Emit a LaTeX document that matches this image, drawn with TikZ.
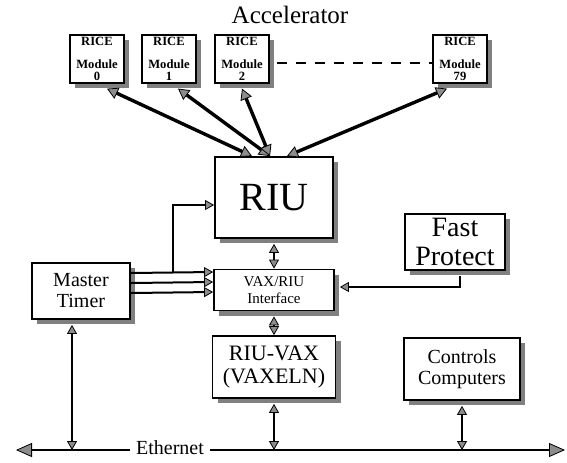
\documentclass[tikz,border=0pt]{standalone}
\usepackage{fontspec}
\setmainfont{Liberation Serif}
\usetikzlibrary{arrows.meta,shadows}

\begin{document}
\begin{tikzpicture}[x=0.5pt,y=-0.5pt,
    box/.style={draw,line width=0.9pt,fill=white,inner sep=1pt,align=center,
      drop shadow={shadow xshift=2.6pt,shadow yshift=-2.6pt,fill=black!50,opacity=1}},
    modbox/.style={box,line width=0.8pt,minimum width=27pt,minimum height=22pt,
      font=\bfseries\fontsize{6.3}{6.3}\selectfont},
    gtip/.tip={Triangle[length=4.5pt,width=5pt,fill=black!45,line width=0.4pt]},
    btip/.tip={Triangle[length=5.5pt,width=6pt,fill=black!45,line width=0.4pt]},
    etip/.tip={Triangle[length=8pt,width=7pt,fill=black!45,line width=0.4pt]},
    bus/.style={line width=1.7pt,btip-btip},
    link/.style={line width=1pt}]
  \useasboundingbox (0,0) rectangle (567,462);

  \node (acc) at (290,15) {\fontsize{12.5}{15}\selectfont Accelerator};

  % RICE modules
  \node[modbox] (m0) at (97,59) {RICE\\[5pt]Module\\0};
  \node[modbox] (m1) at (169,59) {RICE\\[5pt]Module\\1};
  \node[modbox] (m2) at (242,59) {RICE\\[5pt]Module\\2};
  \node[modbox] (m79) at (460,59) {RICE\\[5pt]Module\\79};
  \draw[line width=1.2pt,dash pattern=on 5pt off 4.5pt] ([xshift=3.5pt,yshift=-2pt]m2.east) -- ([yshift=-2pt]m79.west);

  \node[box,minimum width=59pt,minimum height=40.5pt,font=\fontsize{20}{22}\selectfont] (riu) at (274,197.5) {RIU};
  \node[box,minimum width=60pt,minimum height=20.5pt,font=\fontsize{7.5}{8.5}\selectfont] (iface) at (274,290) {VAX/RIU\\Interface};
  \node[box,minimum width=49pt,minimum height=28pt,font=\fontsize{10}{10.5}\selectfont] (timer) at (81,291) {Master\\Timer};
  \node[box,minimum width=50pt,minimum height=28pt,font=\fontsize{14}{14.5}\selectfont] (fast) at (455,242) {Fast\\Protect};
  \node[box,minimum width=61.5pt,minimum height=31pt,font=\fontsize{11}{11.5}\selectfont] (vaxeln) at (274,367) {RIU-VAX\\(VAXELN)};
  \node[box,minimum width=58pt,minimum height=31pt,font=\fontsize{10}{10.5}\selectfont] (ctrl) at (462,369) {Controls\\Computers};

  % modules to RIU
  \draw[bus] ([xshift=5pt,yshift=-2.5pt]m0.south) -- ([xshift=-11pt]riu.north);
  \draw[bus] ([xshift=4.5pt,yshift=-2.5pt]m1.south) -- ([xshift=-2pt]riu.north);
  \draw[bus] ([yshift=-2.5pt]m2.south) -- ([xshift=-2pt]riu.north);
  \draw[bus] ([xshift=-6.5pt,yshift=-2.5pt]m79.south) -- ([xshift=6.5pt]riu.north);

  % timer wires
  \draw[link,-gtip] ([yshift=9pt]timer.east) -- ([yshift=9pt]iface.west);
  \draw[link,-gtip] ([yshift=4pt]timer.east) -- ([yshift=4pt]iface.west);
  \draw[link,-gtip] ([yshift=-1pt]timer.east) -- ([yshift=-1pt]iface.west);
  \coordinate (tap) at (173,273);
  \draw[link,-gtip] (tap) |- ([yshift=-3.75pt]riu.west);
  \draw[link,-gtip] ([xshift=2.5pt,yshift=-2.5pt]fast.south) |- ([xshift=2.5pt,yshift=1.5pt]iface.east);

  \draw[link,gtip-gtip] ([yshift=-2.5pt]riu.south) -- (iface.north);
  \draw[link,gtip-gtip] ([yshift=-2.5pt]iface.south) -- (vaxeln.north);

  % Ethernet
  \coordinate (ethl) at (16,450);
  \coordinate (ethr) at (565,450);
  \node[font=\fontsize{10}{12}\selectfont,inner sep=3pt] (eth) at (170,448) {Ethernet};
  \draw[link,-etip] (eth.west |- ethl) -- (ethl);
  \draw[link,-etip] (eth.east |- ethr) -- (ethr);
  \coordinate (tdrop) at ([xshift=-4.5pt,yshift=-2.5pt]timer.south);
  \draw[link,gtip-gtip] (tdrop) -- (tdrop |- ethl);
  \draw[link,gtip-gtip] ([yshift=-2.5pt]vaxeln.south) -- (vaxeln.south |- ethl);
  \draw[link,gtip-gtip] ([yshift=-2.5pt]ctrl.south) -- (ctrl.south |- ethl);
\end{tikzpicture}
\end{document}
